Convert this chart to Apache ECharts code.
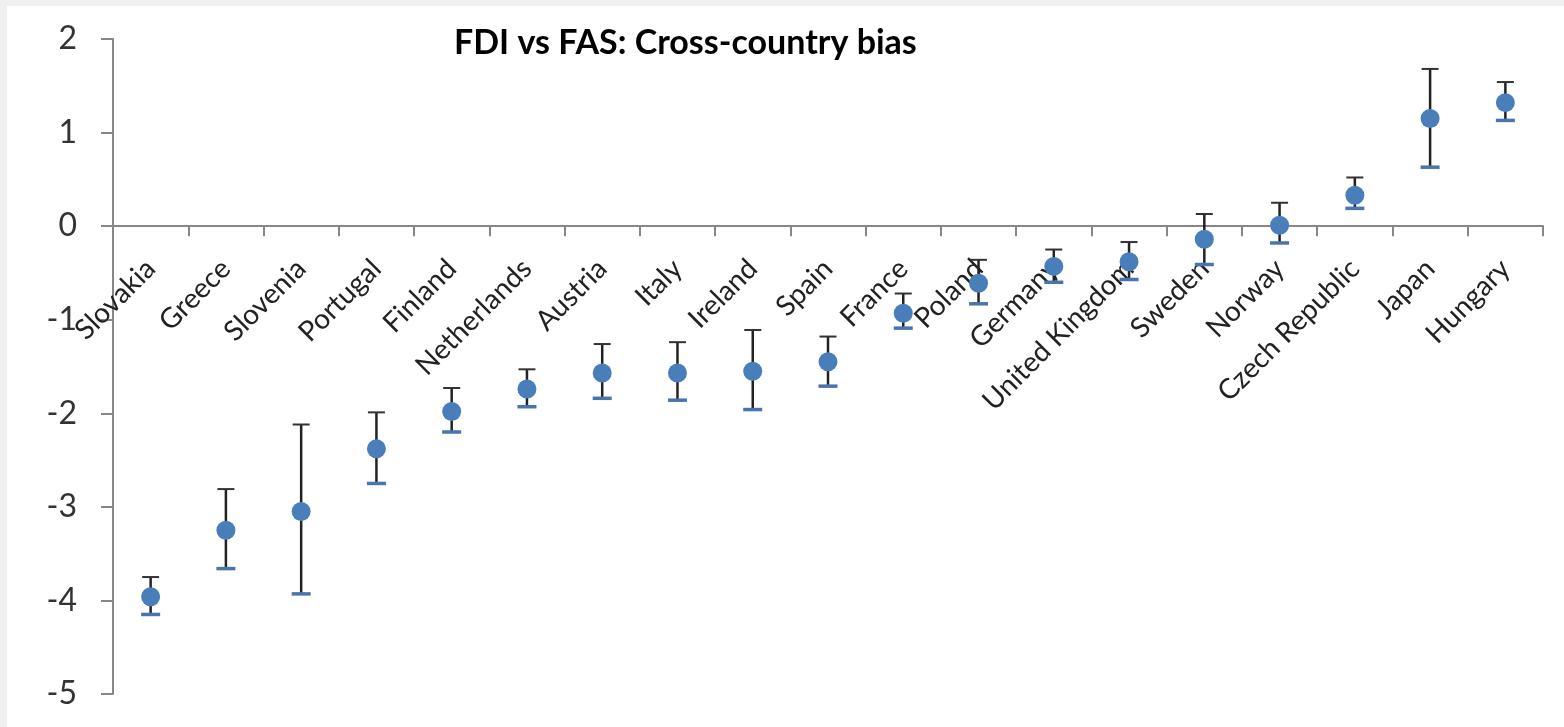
<!DOCTYPE html>
<html>
<head>
<meta charset="utf-8">
<script src="https://cdn.jsdelivr.net/npm/echarts@6/dist/echarts.min.js"></script>
<style>
html,body{margin:0;padding:0;background:#f0f0f0;}
#wrap{position:absolute;left:7px;top:6px;width:1557px;height:721px;background:#fff;}
#chart{position:absolute;left:-7px;top:-6px;width:1564px;height:727px;}
</style>
</head>
<body>
<div id="wrap"><div id="chart"></div></div>
<script>
const countries = ['Slovakia','Greece','Slovenia','Portugal','Finland','Netherlands','Austria','Italy','Ireland','Spain','France','Poland','Germany','United Kingdom','Sweden','Norway','Czech Republic','Japan','Hungary'];
const estimate = [-3.96,-3.25,-3.05,-2.38,-1.98,-1.74,-1.57,-1.57,-1.55,-1.45,-0.93,-0.61,-0.43,-0.38,-0.14,0.01,0.33,1.15,1.32];
const upper = [-3.75,-2.81,-2.12,-1.99,-1.73,-1.53,-1.26,-1.24,-1.11,-1.18,-0.72,-0.36,-0.25,-0.17,0.13,0.25,0.52,1.68,1.54];
const lower = [-4.15,-3.66,-3.93,-2.75,-2.20,-1.93,-1.84,-1.86,-1.96,-1.71,-1.09,-0.83,-0.60,-0.57,-0.41,-0.18,0.19,0.63,1.13];
const yTicks = [-5,-4,-3,-2,-1,0,1,2];
const titleText = 'FDI vs FAS: Cross-country bias';

const gridTop = 39, gridBottom = 33, H = 727;
const yMin = yTicks[0], yMax = yTicks[yTicks.length-1];
const plotH = H - gridTop - gridBottom;
// distance from bottom of grid up to the zero line (where the category axis sits)
const zeroOffset = -plotH * (0 - yMin) / (yMax - yMin);

const chart = echarts.init(document.getElementById('chart'), null, {renderer:'canvas'});
const errData = countries.map((c,i)=>[i, lower[i], upper[i]]);
const option = {
  backgroundColor: 'transparent',
  animation: false,
  title: {
    text: titleText, left: 449, top: 21,
    textStyle: {fontFamily: 'Lato', fontWeight: 'bold', fontSize: 34, color: '#000'}
  },
  grid: {left: 113, right: 21, top: gridTop, bottom: gridBottom, containLabel: false, outerBoundsMode: 'none'},
  xAxis: [{
    type: 'category', data: countries, boundaryGap: true,
    axisLine: {onZero: true, lineStyle: {color: '#878787', width: 2}},
    axisTick: {show: true, interval: 0, length: 10, lineStyle: {color: '#878787', width: 2}},
    axisLabel: {show: false, interval: 0},
    splitLine: {show: false}
  }, {
    type: 'category', data: countries, boundaryGap: true, position: 'bottom', offset: zeroOffset,
    axisLine: {show: false, onZero: false},
    axisTick: {show: false},
    axisLabel: {rotate: 45, interval: 0, margin: 38, fontFamily: 'Lato', fontSize: 28, color: '#222', hideOverlap: false},
    splitLine: {show: false}
  }],
  yAxis: {
    type: 'value', min: yMin, max: yMax, interval: 1,
    axisLine: {show: true, lineStyle: {color: '#878787', width: 2}},
    axisTick: {show: true, length: 12, lineStyle: {color: '#878787', width: 2}},
    axisLabel: {margin: 36, fontFamily: 'Lato', fontSize: 32, color: '#333'},
    splitLine: {show: false}
  },
  series: [
    {
      type: 'custom', name: 'ci', data: errData, z: 2, xAxisIndex: 0,
      renderItem: function(params, api){
        const x = api.value(0);
        const lo = api.coord([x, api.value(1)]);
        const hi = api.coord([x, api.value(2)]);
        const cx = lo[0];
        return {type: 'group', children: [
          {type: 'line', shape: {x1: cx, y1: hi[1], x2: cx, y2: lo[1]}, style: {stroke: '#222', lineWidth: 2.5}},
          {type: 'line', shape: {x1: cx-8.5, y1: hi[1], x2: cx+8.5, y2: hi[1]}, style: {stroke: '#333', lineWidth: 2}},
          {type: 'line', shape: {x1: cx-9.5, y1: lo[1], x2: cx+9.5, y2: lo[1]}, style: {stroke: '#4a74ae', lineWidth: 3.5}}
        ]};
      }
    },
    {
      type: 'scatter', name: 'bias', data: estimate, symbol: 'circle', symbolSize: 19, z: 3, xAxisIndex: 0,
      itemStyle: {color: '#4a7ebb', opacity: 1}
    }
  ]
};
chart.setOption(option);
</script>
</body>
</html>
